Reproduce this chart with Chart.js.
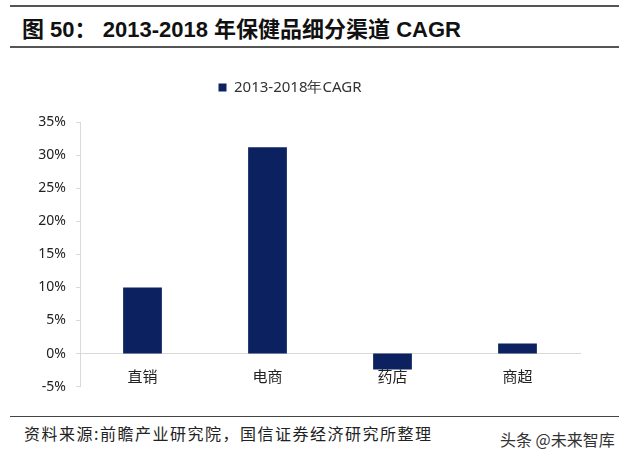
<!DOCTYPE html>
<html>
<head>
<meta charset="utf-8">
<script src="https://cdn.jsdelivr.net/npm/chart.js@4"></script>
<style>
    body { margin: 0; width: 629px; height: 459px; background: #fff; position: relative; overflow: hidden; }
    .rule { position: absolute; left: 10px; width: 609px; height: 2px; background: #555; }
    #title { position: absolute; left: 22px; top: 11px; font: bold 22px "Liberation Sans", "Noto Sans CJK SC", sans-serif; color: #111; white-space: nowrap; }
    #source { position: absolute; left: 24px; top: 421px; font: 16px "Noto Sans CJK SC", sans-serif; letter-spacing: 1.5px; color: #222; white-space: nowrap; }
    #mark { position: absolute; left: 500px; top: 427px; font: 16px "Noto Sans CJK SC", sans-serif; color: #333; white-space: nowrap; }
    #wrap { position: absolute; left: 0; top: 65px; width: 629px; height: 340px; }
</style>
</head>
<body>
<div class="rule" style="top:5px"></div>
<div id="title">图 50：&nbsp;2013-2018 年保健品细分渠道 CAGR</div>
<div class="rule" style="top:46px"></div>
<div id="wrap"><canvas id="chart-cagr"></canvas></div>
<div class="rule" style="top:416px;height:1px;background:#444"></div>
<div id="source">资料来源:前瞻产业研究院，国信证券经济研究所整理</div>
<div id="mark">头条 @未来智库</div>
<script>
// 渠道与增速
const channels = ["直销", "电商", "药店", "商超"];
const cagrValues = [0.10, 0.312, -0.024, 0.015];
const seriesName = "2013-2018年CAGR";

// espacio extra debajo de la leyenda
const legendGap = {
    id: "legendGap",
    beforeInit(chart) {
        const fit = chart.legend.fit;
        chart.legend.fit = function () {
            fit.bind(chart.legend)();
            this.height += 17;
        };
    },
};

var ctx = document.getElementById("chart-cagr").getContext("2d");

new Chart(ctx, {
    type: "bar",
    data: {
        labels: channels,
        datasets: [
            {
                label: seriesName,
                backgroundColor: "#0b2160",
                borderWidth: 0,
                data: cagrValues,
                categoryPercentage: 1,
                barPercentage: 0.31,
            },
        ],
    },
    options: {
        responsive: true,
        maintainAspectRatio: false,
        animation: false,
        layout: {
            padding: { left: 0, right: 49, top: 1, bottom: 4 },
        },
        plugins: {
            legend: {
                display: true,
                position: "top",
                labels: {
                    boxWidth: 8,
                    boxHeight: 8,
                    color: "#333",
                    padding: 14,
                    font: { size: 15, family: "Noto Sans" },
                },
            },
            tooltip: { enabled: false },
        },
        scales: {
            y: {
                min: -0.05,
                max: 0.35,
                afterFit: (scale) => {
                    scale.width = 80;
                },
                grid: {
                    display: true,
                    drawOnChartArea: false,
                    drawTicks: true,
                    tickLength: 4,
                    color: "#d9d9d9",
                },
                border: { display: true, color: "#d9d9d9" },
                ticks: {
                    stepSize: 0.05,
                    padding: 10,
                    color: "#222",
                    font: { size: 14, family: "Noto Sans" },
                    callback: (v) => Math.round(v * 100) + "%",
                },
            },
            x: {
                position: { y: 0 },
                grid: { display: false },
                border: { display: true, color: "#d9d9d9" },
                ticks: {
                    padding: 6,
                    color: "#222",
                    font: { size: 15, family: "Noto Sans CJK SC" },
                },
            },
        },
    },
    plugins: [legendGap],
});
</script>
</body>
</html>
